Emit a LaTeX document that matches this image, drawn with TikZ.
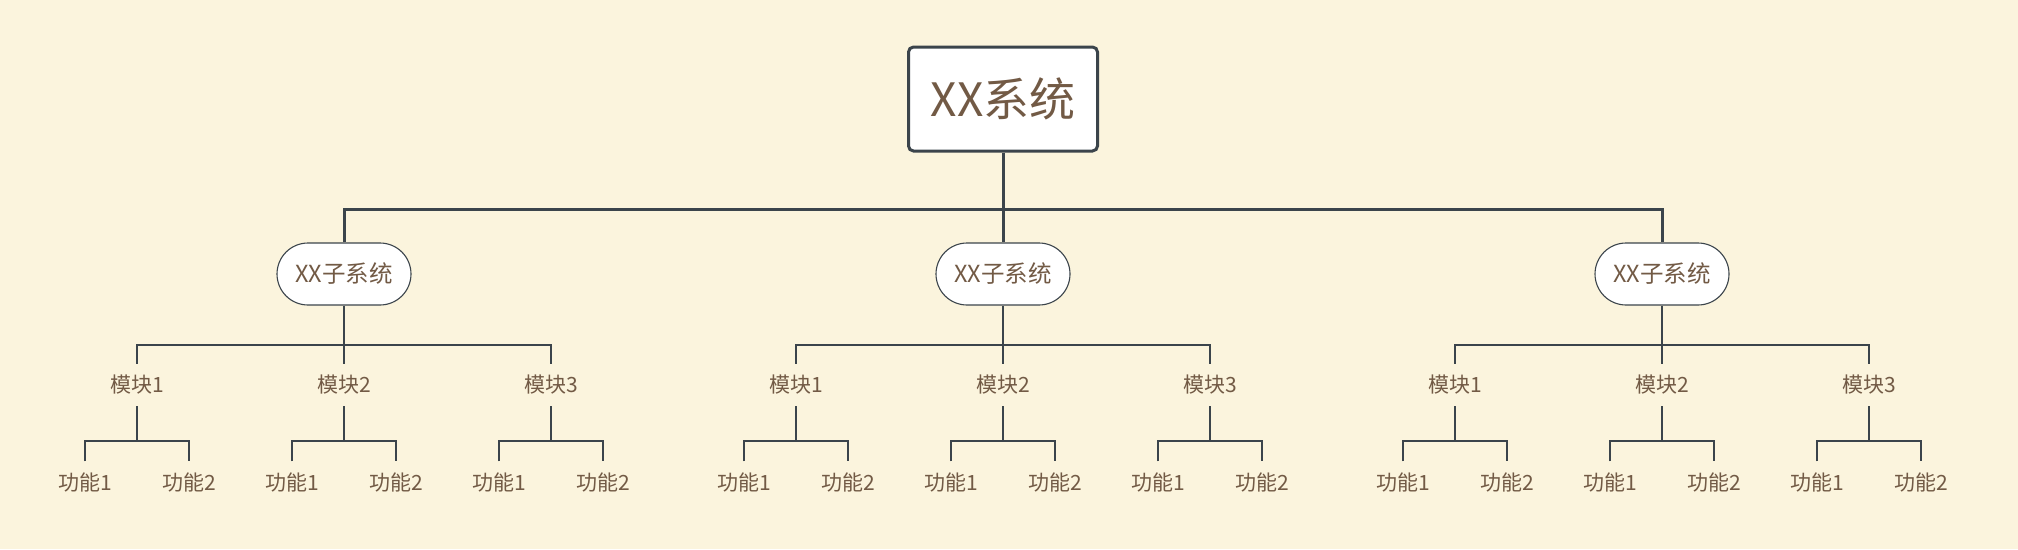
\documentclass[tikz,border=0pt]{standalone}
\usepackage{fontspec}
\setmainfont{Noto Sans CJK SC}
\definecolor{bg}{HTML}{FBF4DD}
\definecolor{txt}{HTML}{725A45}
\definecolor{ln}{HTML}{3B444B}
\tikzset{
  rootbox/.style={draw=ln, line width=3pt, fill=white, rounded corners=5pt,
    minimum width=189pt, minimum height=104pt, inner sep=0pt, text=txt,
    font=\fontsize{46}{50}\selectfont},
  subbox/.style={draw=ln, line width=1.1pt, fill=white, rounded corners=31pt,
    minimum width=134pt, minimum height=62pt, inner sep=0pt, text=txt,
    font=\fontsize{23.5}{26}\selectfont},
  modbox/.style={minimum height=42pt, inner sep=0pt, text=txt,
    font=\fontsize{21}{24}\selectfont},
  funbox/.style={minimum height=43pt, inner sep=0pt, text=txt,
    font=\fontsize{21}{24}\selectfont},
  thick line/.style={draw=ln, line width=3pt},
  thin line/.style={draw=ln, line width=1.7pt},
}
\begin{document}
\begin{tikzpicture}[x=1pt,y=1pt]
\useasboundingbox[fill=bg] (0,0) rectangle (2018,-549);
\node[rootbox] (root) at (1003,-99) {XX系统};
\foreach \i/\x in {1/344,2/1003,3/1662} {
  \node[subbox] (s\i) at (\x,-274) {XX子系统};
  \foreach \j/\dx in {1/-207,2/0,3/207} {
    \node[modbox] (m\i\j) at (\x+\dx,-385) {模块\j};
    \foreach \k/\ddx in {1/-52,2/52} {
      \node[funbox] (f\i\j\k) at (\x+\dx+\ddx,-483) {功能\k};
    }
    \coordinate (fb\i\j) at (\x+\dx,-441);
    \draw[thin line] (f\i\j1.north) |- (fb\i\j) -| (f\i\j2.north);
    \draw[thin line] (m\i\j.south) -- (fb\i\j);
  }
  \coordinate (mb\i) at (\x,-345);
  \draw[thin line] (m\i1.north) |- (mb\i) -| (m\i3.north);
  \draw[thin line] (s\i.south) -- (m\i2.north);
}
\coordinate (b0) at (1003,-209);
\draw[thick line] (s1.north) |- (b0) -| (s3.north);
\draw[thick line] (root.south) -- (s2.north);
\end{tikzpicture}
\end{document}
